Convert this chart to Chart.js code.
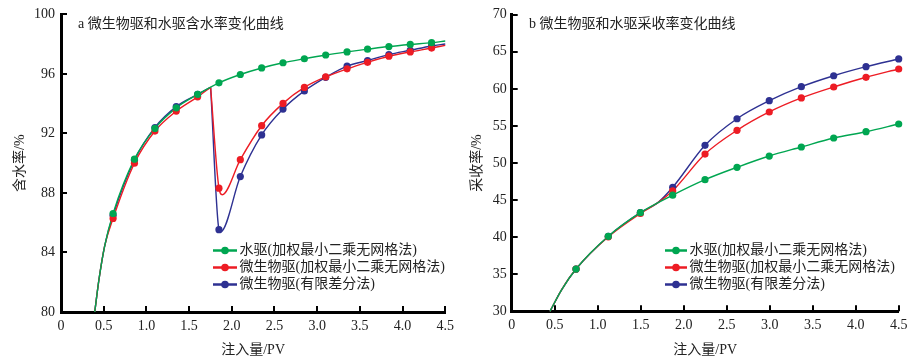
<!DOCTYPE html>
<html><head><meta charset="utf-8">
<script src="https://cdn.jsdelivr.net/npm/chart.js@4/dist/chart.umd.min.js"></script>
<style>
html,body{margin:0;padding:0;background:#fff;}
#wrap{position:relative;width:919px;height:364px;overflow:hidden;}
.box{position:absolute;top:0;height:364px;}
#b1{left:0;width:460px;}
#b2{left:460px;width:459px;}
</style></head><body>
<div id="wrap">
  <div class="box" id="b1"><canvas id="c1"></canvas></div>
  <div class="box" id="b2"><canvas id="c2"></canvas></div>
</div>
<script>
// ===== shared =====
const seriesNames = ['水驱(加权最小二乘无网格法)', '微生物驱(加权最小二乘无网格法)', '微生物驱(有限差分法)'];
const xTickLabels = ['0', '0.5', '1.0', '1.5', '2.0', '2.5', '3.0', '3.5', '4.0', '4.5'];

// ===== panel a: water cut (%) vs injected PV =====
const titleA = 'a 微生物驱和水驱含水率变化曲线';
const yTitleA = '含水率/%';
const yTicksA = ['80', '84', '88', '92', '96', '100'];
const injA = [0.61, 0.86, 1.10, 1.35, 1.60, 1.85, 2.10, 2.35, 2.60, 2.85, 3.10, 3.35, 3.59, 3.84, 4.09, 4.34];
const wcWater   = [86.62, 90.27, 92.34, 93.72, 94.62, 95.40, 95.96, 96.40, 96.75, 97.02, 97.27, 97.48, 97.66, 97.84, 97.98, 98.10];
const wcMicroLS = [86.29, 90.00, 92.16, 93.50, 94.46, 88.32, 90.24, 92.52, 94.02, 95.09, 95.80, 96.34, 96.78, 97.19, 97.48, 97.74];
const wcMicroFD = [86.50, 90.20, 92.40, 93.80, 94.62, 85.53, 89.10, 91.90, 93.64, 94.86, 95.77, 96.52, 96.90, 97.30, 97.59, 97.88];
// curve points without markers
const wcStart = [[0.395, 80], [0.445, 82.2], [0.51, 84.4]];
const wcPeak = [1.752, 95.1];
const wcMicroLSDip = [1.888, 87.88];
const wcMicroFDDip = [1.868, 85.38];
const wcWaterEnd = [4.5, 98.21];
const wcMicroLSEnd = [4.5, 97.92];
const wcMicroFDEnd = [4.5, 98.01];

// ===== panel b: recovery (%) vs injected PV =====
const titleB = 'b 微生物驱和水驱采收率变化曲线';
const yTitleB = '采收率/%';
const yTicksB = ['30', '35', '40', '45', '50', '55', '60', '65', '70'];
const injB = [0.748, 1.123, 1.496, 1.872, 2.248, 2.62, 2.995, 3.368, 3.744, 4.12, 4.50];
const rfWater   = [35.70, 40.11, 43.30, 45.66, 47.75, 49.42, 50.94, 52.16, 53.37, 54.22, 55.26];
const rfMicroLS = [35.70, 40.05, 43.20, 46.26, 51.21, 54.41, 56.88, 58.77, 60.25, 61.56, 62.68];
const rfMicroFD = [35.70, 40.10, 43.30, 46.72, 52.39, 55.97, 58.40, 60.29, 61.77, 62.99, 64.03];
const rfStart = [[0.445, 30], [0.58, 32.9]];
const rfSplit = [1.70, 44.65];

// ===== helpers =====
const COLORS = ['#00a651', '#ed1c24', '#2e3192'];
const FONT = "'Liberation Serif', 'Noto Sans CJK SC', serif";

function pts(xs, ys) { return xs.map((x, i) => ({x: x, y: ys[i]})); }
function pairs(arr) { return arr.map(p => ({x: p[0], y: p[1]})); }
function curve(markPts, extras) { return markPts.concat(pairs(extras)).sort((a, b) => a.x - b.x); }

function lineDs(data, color) {
  return {type: 'line', data: data, borderColor: color, borderWidth: 1.4, pointRadius: 0,
    fill: false, cubicInterpolationMode: 'monotone', order: 10, clip: false, showLine: true};
}
function markDs(data, color, order) {
  return {type: 'scatter', data: data, backgroundColor: color, borderColor: color, borderWidth: 0,
    pointRadius: 3.6, showLine: false, order: order, clip: false};
}

const decor = {
  id: 'decor',
  afterDraw(chart, args, o) {
    const {ctx, chartArea: a, scales: {x, y}} = chart;
    ctx.save();
    ctx.strokeStyle = '#000';
    ctx.lineWidth = 2;
    ctx.beginPath();
    x.ticks.forEach(t => {
      if (t.value === x.min) return;
      const px = Math.round(x.getPixelForValue(t.value));
      ctx.moveTo(px, a.bottom); ctx.lineTo(px, a.bottom - 6);
    });
    y.ticks.forEach(t => {
      if (t.value === y.min) return;
      const py = Math.round(y.getPixelForValue(t.value));
      ctx.moveTo(a.left, py); ctx.lineTo(a.left + 6, py);
    });
    ctx.stroke();
    // panel title
    ctx.fillStyle = '#222';
    ctx.textBaseline = 'middle';
    ctx.textAlign = 'left';
    ctx.font = '14px ' + FONT;
    ctx.fillText(o.title, o.titleX, o.titleY);
    // legend
    ctx.font = '14px ' + FONT;
    seriesNames.forEach((name, i) => {
      const yy = o.legY + i * o.legGap;
      ctx.strokeStyle = COLORS[i];
      ctx.lineWidth = 2.5;
      ctx.beginPath(); ctx.moveTo(o.lx0, yy); ctx.lineTo(o.lx1, yy); ctx.stroke();
      ctx.fillStyle = COLORS[i];
      ctx.beginPath(); ctx.arc((o.lx0 + o.lx1) / 2, yy, 3.8, 0, Math.PI * 2); ctx.fill();
      ctx.fillStyle = '#222';
      ctx.fillText(name, o.tx, yy);
    });
    ctx.restore();
  }
};

Chart.defaults.font.family = FONT;
Chart.defaults.font.size = 14;
Chart.defaults.color = '#222';

function makeChart(id, datasets, c) {
  return new Chart(document.getElementById(id), {
    data: {datasets: datasets},
    plugins: [decor],
    options: {
      responsive: true, maintainAspectRatio: false, animation: false, devicePixelRatio: 1,
      layout: {padding: {left: 0, top: c.top, right: c.right, bottom: 0}},
      plugins: {legend: {display: false}, tooltip: {enabled: false}, decor: c.decor},
      scales: {
        x: {type: 'linear', min: 0, max: 4.5,
          ticks: {stepSize: 0.5, padding: 6, color: '#222', font: {size: 14},
            callback: (v, i) => xTickLabels[i]},
          grid: {display: false, drawTicks: false},
          border: {display: true, color: '#000', width: 3},
          title: {display: true, text: '注入量/PV', font: {size: 14}, color: '#222', padding: {top: 0, bottom: 5.6}},
          afterFit: s => { s.height = c.xh; }
        },
        y: {type: 'linear', min: c.ymin, max: c.ymax,
          ticks: {stepSize: c.ystep, padding: c.ypad, color: '#222', font: {size: 14},
            callback: (v, i) => c.yLabels[i]},
          grid: {display: false, drawTicks: false},
          border: {display: true, color: '#000', width: 3},
          title: {display: true, text: c.yTitle, font: {size: 14}, color: '#222', padding: {top: c.ytp, bottom: 0}},
          afterFit: s => { s.width = c.yw; }
        }
      }
    }
  });
}

// ---- panel a datasets ----
const mA = [pts(injA, wcWater), pts(injA, wcMicroLS), pts(injA, wcMicroFD)];
const lineWater = curve(mA[0], wcStart.concat([wcWaterEnd]));
const lineLS = curve(mA[1], wcStart.concat([wcPeak, wcMicroLSDip, wcMicroLSEnd]));
const lineFD = curve(mA[2], wcStart.concat([wcPeak, wcMicroFDDip, wcMicroFDEnd]));
const split = (arr) => [arr.filter(p => p.x <= wcPeak[0]), arr.filter(p => p.x >= wcPeak[0])];
const [lsPre, lsPost] = split(lineLS);
const [fdPre, fdPost] = split(lineFD);

makeChart('c1', [
  lineDs(lineWater, COLORS[0]),
  lineDs(lsPre, COLORS[1]), lineDs(lsPost, COLORS[1]),
  lineDs(fdPre, COLORS[2]), lineDs(fdPost, COLORS[2]),
  markDs(mA[2], COLORS[2], 3), markDs(mA[1], COLORS[1], 2), markDs(mA[0], COLORS[0], 1)
], {top: 14, right: 12, xh: 52, yw: 61, ymin: 80, ymax: 100, ystep: 4, ypad: 6, ytp: 12,
   yLabels: yTicksA, yTitle: yTitleA,
   decor: {title: titleA, titleX: 78, titleY: 24, legY: 250.5, legGap: 17, lx0: 213, lx1: 237, tx: 239.5}});

// ---- panel b datasets ----
const mB = [pts(injB, rfWater), pts(injB, rfMicroLS), pts(injB, rfMicroFD)];
makeChart('c2', [
  lineDs(curve(mB[0], rfStart), COLORS[0]),
  lineDs(curve(mB[1], rfStart.concat([rfSplit])), COLORS[1]),
  lineDs(curve(mB[2], rfStart.concat([rfSplit])), COLORS[2]),
  markDs(mB[2], COLORS[2], 3), markDs(mB[1], COLORS[1], 2), markDs(mB[0], COLORS[0], 1)
], {top: 14.7, right: 20.3, xh: 52.7, yw: 51.7, ymin: 30, ymax: 70, ystep: 5, ypad: 5, ytp: 9,
   yLabels: yTicksB, yTitle: yTitleB,
   decor: {title: titleB, titleX: 69, titleY: 24, legY: 250.5, legGap: 17, lx0: 205, lx1: 227, tx: 229.5}});
</script>
</body></html>
